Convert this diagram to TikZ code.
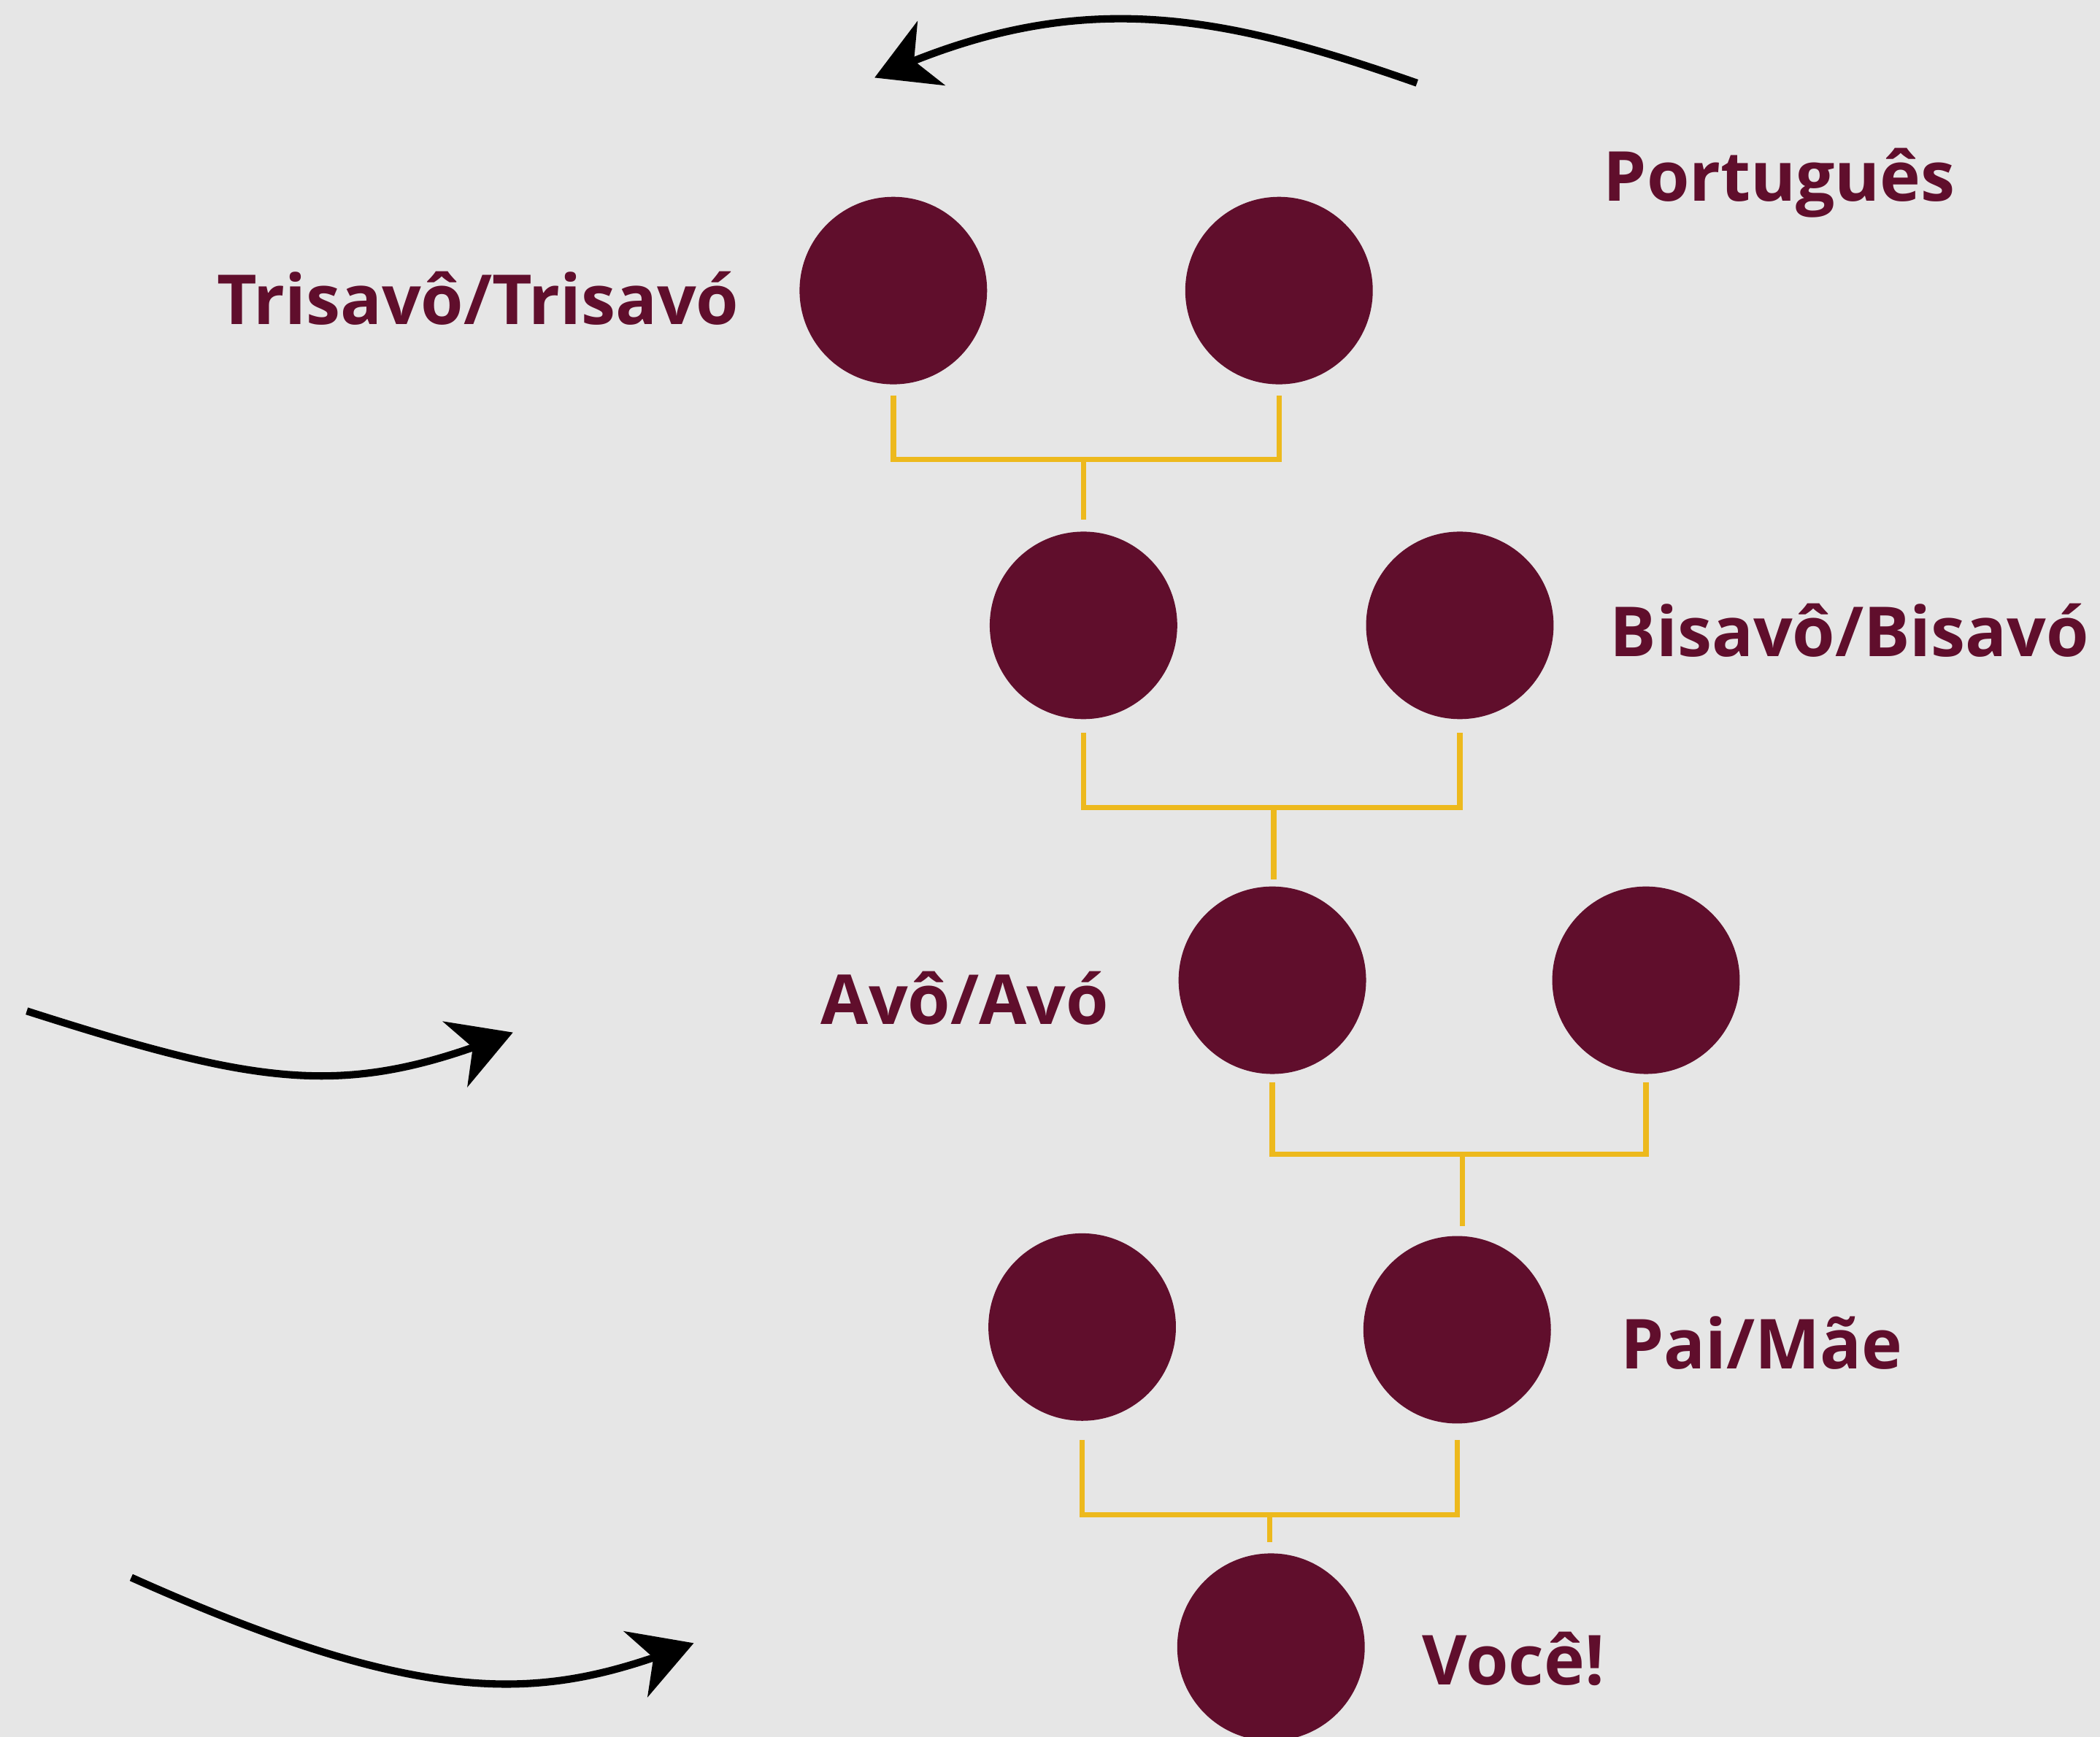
\documentclass[tikz,border=0pt]{standalone}
\usepackage{fontspec}
\newfontfamily\osans{Open Sans}
\usetikzlibrary{arrows.meta,calc,bending}
\definecolor{bgc}{RGB}{230,230,230}
\definecolor{wine}{RGB}{96,14,44}
\definecolor{gold}{RGB}{237,185,29}
\tikzset{
  person/.style={circle,fill=wine,draw=none,minimum size=140pt,inner sep=0pt},
  lbl/.style={text=wine,font=\osans\fontsize{51.5}{60}\selectfont\bfseries,inner sep=0pt},
  conn/.style={draw=gold,line width=4pt},
  curvearrow/.style={draw=black,line width=5.5pt,-{Stealth[length=46pt,width=52pt,inset=14pt,flex]}}
}
\begin{document}
\begin{tikzpicture}[x=1pt,y=-1pt]
\fill[bgc] (0,0) rectangle (1568,1297);
\useasboundingbox (0,0) rectangle (1568,1297);
\begin{scope}
\clip (0,0) rectangle (1568,1297);
\node[person] (t1) at (667,217) {};
\node[person] (t2) at (955,217) {};
\node[person] (b1) at (809,467) {};
\node[person] (b2) at (1090,467) {};
\node[person] (c1) at (950,732) {};
\node[person] (c2) at (1229,732) {};
\node[person] (d1) at (808,991) {};
\node[person] (d2) at (1088,993) {};
\node[person] (e) at (949,1230) {};
\end{scope}
\coordinate (j1) at (809,343);
\coordinate (j2) at (951,603);
\coordinate (j3) at (1092,862);
\coordinate (j4) at (948,1131);
\draw[conn] ([yshift=-8pt]t1.south) |- (j1) -| ([yshift=-8pt]t2.south);
\draw[conn] (j1) -- ([yshift=9pt]j1 |- b1.north);
\draw[conn] ([yshift=-10pt]b1.south) |- (j2) -| ([yshift=-10pt]b2.south);
\draw[conn] (j2) -- ([yshift=5pt]j2 |- c1.north);
\draw[conn] ([yshift=-6pt]c1.south) |- (j3) -| ([yshift=-6pt]c2.south);
\draw[conn] (j3) -- ([yshift=7pt]j3 |- d2.north);
\draw[conn] ([yshift=-14pt]d1.south) |- (j4) -| ([yshift=-12pt]d2.south);
\draw[conn] (j4) -- ([yshift=8pt]j4 |- e.north);
\node[lbl,anchor=base west] (pt) at (1197,150) {Português};
\node[lbl,anchor=base east] (lt) at (552,242) {Trisavô/Trisavó};
\node[lbl,anchor=base west] (lb) at (1202,490) {Bisavô/Bisavó};
\node[lbl,anchor=base east] (la) at (828,765) {Avô/Avó};
\node[lbl,anchor=base west] (lp) at (1210,1022) {Pai/Mãe};
\node[lbl,anchor=base west] (lv) at (1062,1258) {Você!};
\coordinate (a1s) at (1058,62);
\coordinate (a1e) at (653,58);
\coordinate (a2s) at (20,755);
\coordinate (a2e) at (383,771);
\coordinate (a3s) at (98,1178);
\coordinate (a3e) at (518,1227);
\draw[curvearrow] (a1s) .. controls (908,9.5) and (803,-11) .. (a1e);
\draw[curvearrow] (a2s) .. controls (200,812.6) and (260,820) .. (a2e);
\draw[curvearrow] (a3s) .. controls (332,1283) and (413,1267) .. (a3e);
\end{tikzpicture}
\end{document}
